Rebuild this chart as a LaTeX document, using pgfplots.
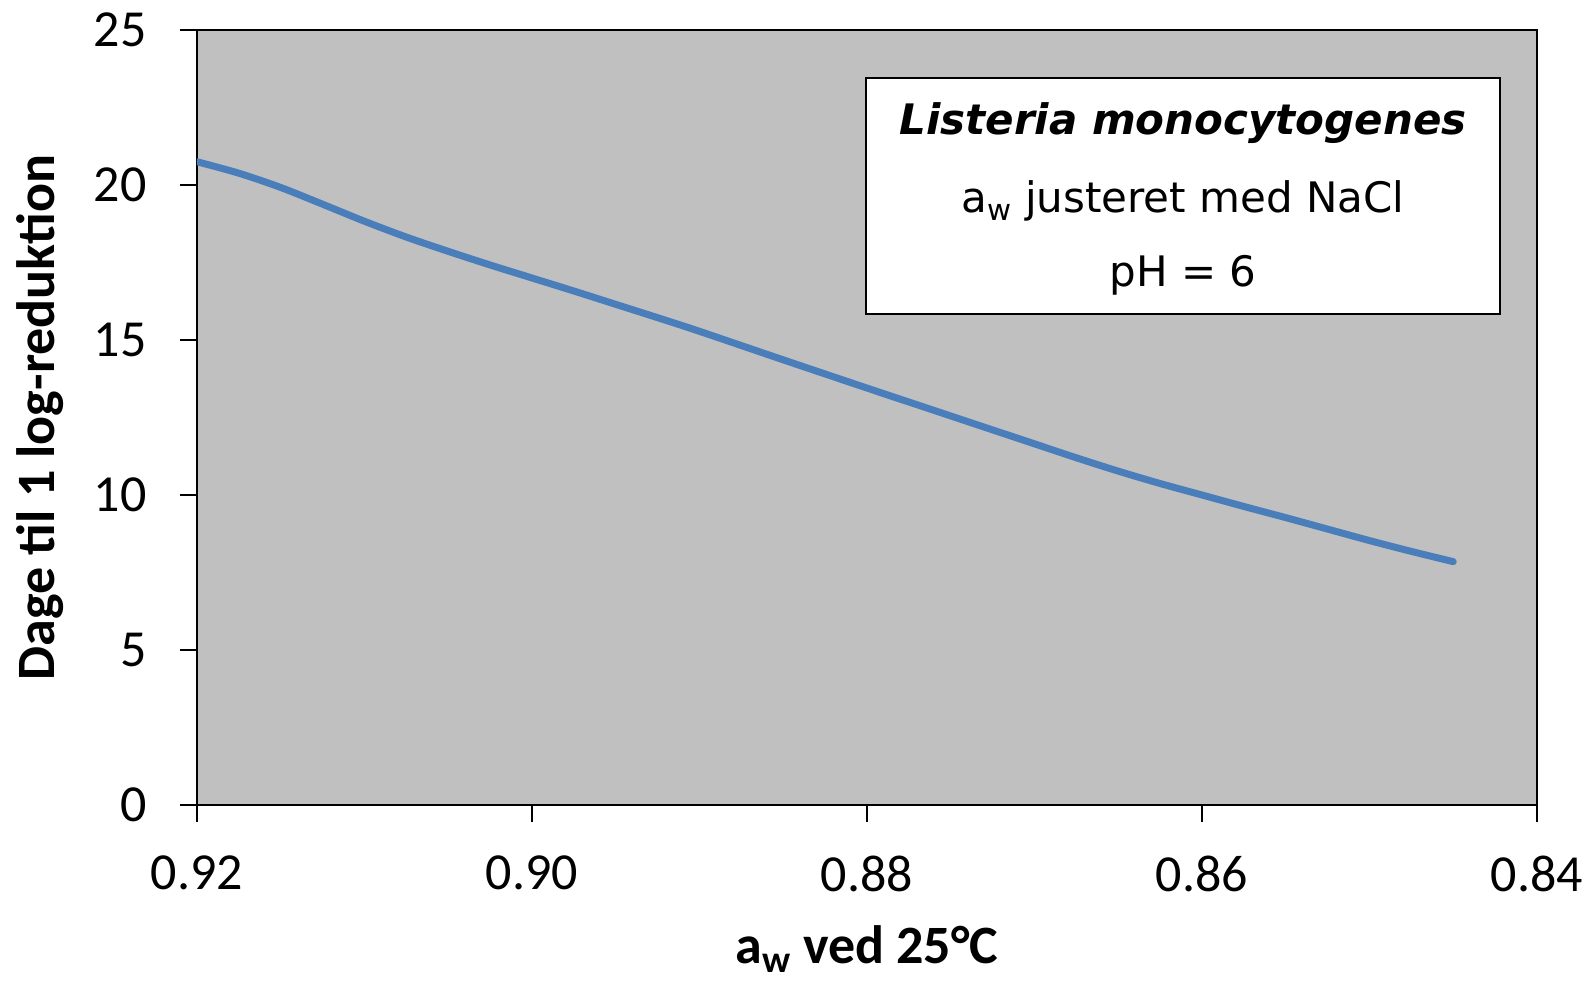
\documentclass[border=0pt]{standalone}
\usepackage{fontspec}
\setmainfont{Carlito}
\newfontfamily\verd{DejaVu Sans}
\usepackage{pgfplots}
\pgfplotsset{compat=1.18}
\definecolor{bg}{RGB}{192,192,192}
\definecolor{lineblue}{RGB}{74,126,187}
\begin{document}
\fontsize{52}{62}\selectfont
\begin{tikzpicture}
\begin{axis}[
  at={(0pt,0pt)}, anchor=south west,
  scale only axis, width=1340pt, height=775pt,
  x dir=reverse,
  xmin=0.84, xmax=0.92, ymin=0, ymax=25,
  xtick={0.84,0.86,0.88,0.90,0.92},
  ytick={0,5,10,15,20,25},
  xtick pos=bottom, ytick pos=left,
  tick align=outside,
  major tick length=17pt,
  every tick/.style={black, line width=2pt},
  axis line style={black, line width=2.5pt},
  axis background/.style={fill=bg},
  /pgf/number format/assume math mode=true,
  xticklabel style={/pgf/number format/fixed, /pgf/number format/fixed zerofill, /pgf/number format/precision=2, yshift=-16pt},
  tick label style={font=\fontsize{52}{62}\selectfont},
  yticklabel style={xshift=-16pt},
  xlabel={\bfseries a\textsubscript{w} ved 25°C},
  ylabel={\bfseries Dage til 1 log-reduktion},
  label style={font=\fontsize{54}{64}\selectfont},
  xlabel style={at={(rel axis cs:0.5,0)}, anchor=base, yshift=-158pt},
  ylabel style={at={(rel axis cs:-0.106,0.5)}, anchor=base},
]
\addplot[lineblue, line width=7pt, line cap=round, smooth] coordinates {
(0.920,20.75) (0.9175,20.38) (0.915,19.92) (0.9125,19.38) (0.910,18.83)
(0.9075,18.32) (0.905,17.86) (0.9025,17.42) (0.900,17.00) (0.8975,16.58)
(0.895,16.15) (0.8925,15.72) (0.890,15.28) (0.885,14.36) (0.880,13.45)
(0.875,12.55) (0.870,11.65) (0.8675,11.20) (0.865,10.77) (0.8625,10.37)
(0.860,10.00) (0.8575,9.63) (0.855,9.27) (0.8525,8.90) (0.850,8.53)
(0.8475,8.18) (0.845,7.85)
};
\end{axis}
\draw[black, line width=2.2pt, fill=white] (669pt,727pt) rectangle (1303pt,491pt);
\node[anchor=base, inner sep=0pt, font=\verd\fontsize{42}{50}\selectfont\bfseries\itshape] at (986pt,670pt) {Listeria monocytogenes};
\node[anchor=base, inner sep=0pt, font=\verd\fontsize{42}{50}\selectfont] at (986pt,592pt) {a\textsubscript{w} justeret med NaCl};
\node[anchor=base, inner sep=0pt, font=\verd\fontsize{42}{50}\selectfont] at (986pt,518pt) {pH = 6};
\pgfresetboundingbox
\useasboundingbox (-197pt,-177pt) rectangle (1396pt,805pt);
\end{tikzpicture}
\end{document}
